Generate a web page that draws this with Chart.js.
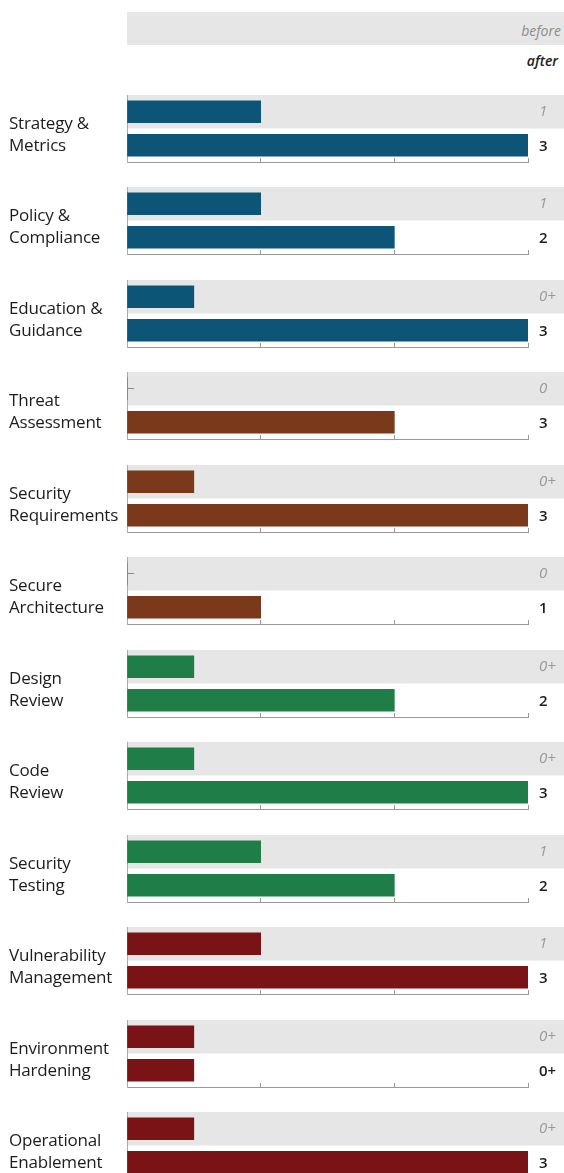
<!DOCTYPE html>
<html>
<head>
<meta charset="utf-8">
<script src="https://cdn.jsdelivr.net/npm/chart.js"></script>
<style>
  body { margin: 0; width: 564px; height: 1173px; overflow: hidden; background: #fff; position: relative; font-family: 'Open Sans', sans-serif; }
  .band { position: absolute; left: 127px; top: 12px; width: 437px; height: 33px; background: #e6e6e6; }
  .key { position: absolute; right: 3px; font-style: italic; font-size: 14px; }
  .group { position: absolute; left: 0; width: 564px; height: 72px; }
  .label { position: absolute; left: 9px; font-size: 17px; line-height: 22px; color: #1c1c1c; white-space: nowrap; letter-spacing: -0.2px; }
  canvas { position: absolute; left: 0; top: 0; }
</style>
</head>
<body>
<div class="band"></div>
<div class="key" style="top:21px;color:#8c8c8c;">before</div>
<div class="key" style="top:51px;right:6px;color:#222;font-weight:600;">after</div>
<div id="groups"></div>
<script>
const practices = [
  ['Strategy &', 'Metrics'], ['Policy &', 'Compliance'], ['Education &', 'Guidance'],
  ['Threat', 'Assessment'], ['Security', 'Requirements'], ['Secure', 'Architecture'],
  ['Design', 'Review'], ['Code', 'Review'], ['Security', 'Testing'],
  ['Vulnerability', 'Management'], ['Environment', 'Hardening'], ['Operational', 'Enablement']
];
const beforeValues = [1, 1, 0.5, 0, 0.5, 0, 0.5, 0.5, 1, 1, 0.5, 0.5];
const afterValues = [3, 2, 3, 2, 3, 1, 2, 3, 2, 3, 0.5, 3];
const beforeLabels = ['1', '1', '0+', '0', '0+', '0', '0+', '0+', '1', '1', '0+', '0+'];
const afterLabels = ['3', '2', '3', '3', '3', '1', '2', '3', '2', '3', '0+', '3'];
const rowLabels = ['before', 'after'];
const xTicks = [0, 1, 2, 3];

const blue = '#0c5577', brown = '#7a391a', green = '#1f7e48', red = '#7a1315';
const colors = [blue, blue, blue, brown, brown, brown, green, green, green, red, red, red];

// grey strip behind the "before" row
const bandPlugin = {
  id: 'band',
  beforeDraw(chart) {
    const { ctx, chartArea, scales: { y } } = chart;
    const mid = (y.getPixelForValue(0) + y.getPixelForValue(1)) / 2;
    ctx.save();
    ctx.fillStyle = '#e6e6e6';
    ctx.fillRect(chartArea.left, chartArea.top, chart.width - chartArea.left, mid - chartArea.top);
    ctx.restore();
  }
};

// level text at the right of each row
const valuePlugin = {
  id: 'values',
  afterDatasetsDraw(chart, args, opts) {
    const { ctx, chartArea, scales: { y } } = chart;
    ctx.save();
    ctx.textBaseline = 'middle';
    ctx.font = 'italic 15px "Open Sans"';
    ctx.fillStyle = '#999';
    ctx.fillText(opts.before, chartArea.right + 11, y.getPixelForValue(0));
    ctx.font = '600 15px "Open Sans"';
    ctx.fillStyle = '#1c1c1c';
    ctx.fillText(opts.after, chartArea.right + 11, y.getPixelForValue(1) + 1);
    ctx.restore();
  }
};

const holder = document.getElementById('groups');
practices.forEach((name, i) => {
  const top = Math.round(95 + i * 92.45);
  const wrap = document.createElement('div');
  wrap.className = 'group';
  wrap.style.top = top + 'px';
  const cv = document.createElement('canvas');
  cv.width = 564; cv.height = 72;
  wrap.appendChild(cv);
  const lab = document.createElement('div');
  lab.className = 'label';
  lab.style.top = '17px';
  lab.textContent = name[0];
  lab.appendChild(document.createElement('br'));
  lab.appendChild(document.createTextNode(name[1]));
  wrap.appendChild(lab);
  holder.appendChild(wrap);

  new Chart(cv, {
    type: 'bar',
    data: {
      labels: rowLabels,
      datasets: [{
        data: [beforeValues[i], afterValues[i]],
        backgroundColor: colors[i],
        barThickness: 22
      }]
    },
    options: {
      indexAxis: 'y',
      responsive: false,
      animation: false,
      layout: { padding: { left: 127, right: 36, top: 0, bottom: 5 } },
      plugins: {
        legend: { display: false },
        tooltip: { enabled: false },
        values: { before: beforeLabels[i], after: afterLabels[i] }
      },
      scales: {
        x: {
          min: xTicks[0], max: xTicks[xTicks.length - 1],
          afterBuildTicks: s => { s.ticks = xTicks.map(v => ({ value: v })); },
          ticks: { display: false },
          grid: { drawOnChartArea: false, tickLength: -4, color: '#999' },
          border: { color: '#999' },
          afterFit: s => { s.height = 0; }
        },
        y: {
          ticks: { display: false },
          grid: { drawOnChartArea: false, offset: false, tickLength: -7, color: '#888' },
          border: { color: '#aaa' },
          afterFit: s => { s.width = 0; }
        }
      }
    },
    plugins: [bandPlugin, valuePlugin]
  });
});
</script>
</body>
</html>
